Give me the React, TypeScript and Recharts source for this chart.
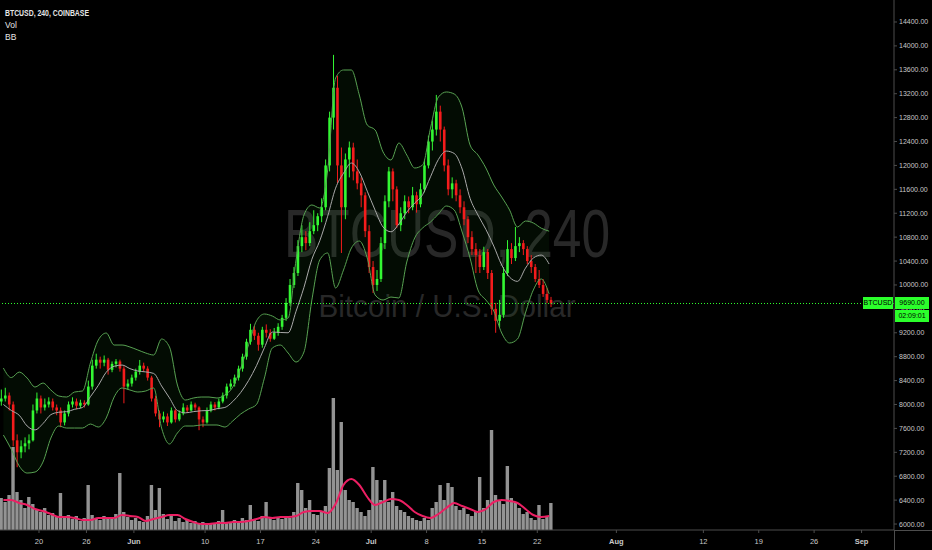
import { ComposedChart, XAxis, YAxis, Bar, Line, Area, ReferenceLine } from 'recharts'

// BTCUSD (Coinbase), 12h candles [open, high, low, close] from 15 May 2019
const mayCandles = [
  [8050, 8250, 7980, 8100], [8100, 8280, 8050, 8150], [8150, 8200, 7900, 8000], [8000, 8050, 7300, 7400],
  [7400, 7500, 6950, 7200], [7200, 7400, 7100, 7300], [7300, 7450, 7200, 7350], [7350, 7500, 7250, 7400],
  [7400, 8000, 7380, 7900], [7900, 8200, 7850, 8100], [8100, 8150, 7850, 7950], [7950, 8100, 7900, 8000],
  [8000, 8120, 7950, 8050], [8050, 8100, 7900, 7950], [7950, 8000, 7820, 7900], [7900, 7950, 7620, 7700],
  [7700, 7900, 7650, 7850], [7850, 8050, 7800, 8000], [8000, 8120, 7950, 8050], [8050, 8100, 7920, 7980],
  [7980, 8080, 7940, 8030], [8030, 8070, 7950, 8000], [8000, 8400, 7980, 8300], [8300, 8750, 8250, 8650],
  [8650, 8850, 8600, 8750], [8750, 8800, 8600, 8700], [8700, 8820, 8640, 8750], [8750, 8780, 8500, 8580],
  [8580, 8720, 8540, 8680], [8680, 8760, 8620, 8720], [8720, 8750, 8550, 8600], [8600, 8640, 8020, 8300],
  [8300, 8420, 8250, 8350], [8350, 8500, 8300, 8450],
]

const juneCandles = [
  [8450, 8600, 8400, 8550], [8550, 8745, 8500, 8650], [8650, 8700, 8550, 8600], [8600, 8640, 8400, 8450],
  [8450, 8480, 8050, 8100], [8100, 8150, 7800, 7850], [7850, 7900, 7620, 7750], [7750, 7880, 7700, 7800],
  [7800, 7850, 7640, 7700], [7700, 7950, 7680, 7900], [7900, 7920, 7700, 7750], [7750, 7900, 7720, 7850],
  [7850, 8020, 7820, 7950], [7950, 7990, 7860, 7900], [7900, 8050, 7880, 8000], [8000, 8030, 7900, 7950],
  [7950, 7970, 7570, 7750], [7750, 7800, 7620, 7700], [7700, 7950, 7680, 7900], [7900, 8050, 7870, 8000],
  [8000, 8040, 7900, 7950], [7950, 8100, 7920, 8050], [8050, 8200, 8020, 8150], [8150, 8350, 8100, 8300],
  [8300, 8420, 8250, 8350], [8350, 8500, 8300, 8450], [8450, 8650, 8400, 8600], [8600, 8850, 8550, 8800],
  [8800, 9100, 8750, 9050], [9050, 9350, 9000, 9250], [9250, 9320, 9080, 9150], [9150, 9200, 8900, 9000],
  [9000, 9300, 8950, 9250], [9250, 9340, 9120, 9200], [9200, 9260, 9050, 9100], [9100, 9280, 9080, 9200],
  [9200, 9360, 9150, 9300], [9300, 9500, 9250, 9450], [9450, 9780, 9400, 9700], [9700, 10100, 9650, 10000],
  [10000, 10300, 9950, 10200], [10200, 10750, 10150, 10650], [10650, 11000, 10550, 10800], [10800, 10900, 10580, 10700],
  [10700, 11050, 10650, 10900], [10900, 11250, 10850, 11000], [11000, 11200, 10900, 11150], [11150, 11450, 11050, 11300],
  [11300, 12100, 11250, 12000], [12000, 12900, 11900, 12800], [12800, 13850, 12600, 13300], [13300, 13500, 11700, 12000],
  [12000, 12300, 10535, 11300], [11300, 12200, 11100, 12100], [12100, 12400, 11800, 12300], [12300, 12380, 11750, 11900],
  [11900, 12100, 11600, 11700], [11700, 11800, 11300, 11500], [11500, 11550, 10800, 10900], [10900, 11000, 10200, 10300],
]

const julyCandles = [
  [10300, 10400, 9865, 10000], [10000, 10250, 9900, 10100], [10100, 10800, 10050, 10700], [10700, 11500, 10600, 11400],
  [11400, 11975, 11300, 11900], [11900, 11950, 11400, 11600], [11600, 11650, 10950, 11000], [11000, 11300, 10900, 11200],
  [11200, 11500, 11100, 11400], [11400, 11480, 11200, 11300], [11300, 11640, 11250, 11500], [11500, 11560, 11210, 11350],
  [11350, 11700, 11300, 11600], [11600, 12100, 11550, 12000], [12000, 12500, 11950, 12400], [12400, 12750, 12250, 12600],
  [12600, 13180, 12500, 12900], [12900, 13000, 12400, 12600], [12600, 12650, 11900, 12000], [12000, 12100, 11500, 11600],
  [11600, 11800, 11450, 11700], [11700, 11760, 11400, 11500], [11500, 11600, 11200, 11300], [11300, 11400, 11000, 11100],
  [11100, 11150, 10700, 10800], [10800, 10900, 10500, 10600], [10600, 10700, 10200, 10500], [10500, 10600, 10200, 10300],
  [10300, 10640, 10250, 10550], [10550, 10600, 10100, 10200], [10200, 10250, 9500, 9600], [9600, 9700, 9200, 9400],
  [9400, 9750, 9290, 9500], [9500, 10300, 9450, 10200], [10200, 10750, 10150, 10600], [10600, 10700, 10350, 10450],
  [10450, 10970, 10400, 10650], [10650, 10800, 10550, 10700], [10700, 10750, 10500, 10600], [10600, 10650, 10350, 10400],
  [10400, 10500, 10200, 10300], [10300, 10350, 10050, 10100], [10100, 10250, 9950, 10000], [10000, 10100, 9800, 9850],
  [9850, 9950, 9700, 9750], [9750, 9800, 9630, 9690],
]

const mayVolume = [
  3200, 2800, 3500, 8300, 3800, 3000, 2200, 3300, 2600, 2000, 1800, 2200, 1500, 1700, 1400, 3700, 1200,
  1500, 1100, 1400, 900, 1200, 4500, 1500, 1200, 1000, 1400, 1100, 1200, 1600, 5700, 1800, 1300, 1000,
]
const juneVolume = [
  1200, 900, 800, 1400, 4500, 2000, 4200, 1600, 1100, 1400, 900, 1200, 800, 1000, 700, 900, 600, 800, 500, 700,
  600, 900, 2000, 800, 700, 1000, 900, 1200, 1000, 2500, 1100, 900, 1400, 2800, 1200, 1000, 1300, 1100, 1400, 1200,
  1800, 4700, 4000, 2200, 3000, 1600, 1500, 1800, 2400, 6200, 13200, 6000, 10800, 4000, 3000, 2800, 2200, 1800, 1400, 2000,
]
const julyVolume = [
  6300, 5000, 3000, 5000, 2800, 3800, 2400, 2000, 1800, 1400, 1200, 1000, 900, 1200, 1000, 2200, 2800, 4500, 3000, 4700,
  4300, 2400, 2000, 2200, 1600, 1400, 1800, 5300, 2200, 3000, 10000, 3500, 3000, 2600, 6400, 3200, 2800, 2200, 1600, 1800,
  1200, 1000, 2500, 1100, 1400, 2700,
]

// Bollinger bands and volume average, one reading per day
const bbUpper = [
  8610, 8450, 8543, 8443, 8292, 8359, 8242, 8142, 8125, 8209, 8226, 8694, 9079, 9196, 8995, 8995, 8962, 8912, 8861, 8828,
  9096, 8962, 8326, 8075, 8108, 8125, 8125, 8108, 8159, 8292, 8610, 9000, 9400, 9514, 9480, 9414, 9447, 10418, 11171, 11338,
  11288, 11924, 13463, 13597, 13597, 13178, 12676, 12593, 12225, 12091, 12375, 12175, 11957, 12007, 12626, 13145, 13229, 13195, 12961, 12342,
  12175, 11957, 11673, 11472, 11254, 10970, 11070, 11037, 10950, 10900,
]
const bbBasis = [
  8000, 7900, 7820, 7640, 7575, 7680, 7830, 7870, 7880, 7920, 7950, 8130, 8320, 8540, 8640, 8660, 8600, 8560, 8545, 8520,
  8310, 8110, 7900, 7860, 7880, 7895, 7900, 7930, 7950, 8050, 8200, 8400, 8650, 8950, 9212, 9205, 9200, 9560, 9960, 10430,
  10740, 11150, 11620, 11870, 12040, 11890, 11570, 11250, 10970, 10890, 11020, 11220, 11371, 11510, 11810, 12100, 12240, 12200, 11940, 11450,
  11170, 10930, 10650, 10334, 10130, 10060, 10280, 10450, 10500, 10350,
]
const bbLower = [
  7489, 7250, 6971, 6853, 6870, 7037, 7439, 7640, 7606, 7606, 7606, 7673, 7623, 7774, 8125, 8276, 8242, 8209, 8226, 8276,
  7606, 7339, 7523, 7640, 7640, 7657, 7657, 7657, 7623, 7724, 7841, 7924, 8000, 8443, 8945, 8995, 8861, 8711, 8878, 9748,
  10418, 10535, 9949, 10250, 10618, 10735, 10451, 9832, 9748, 9798, 9782, 10384, 10786, 10953, 11053, 11187, 11321, 11254, 10886, 10450,
  9916, 9748, 9564, 9196, 9029, 9096, 9531, 9916, 10100, 9850,
]
const volumeMa = [
  3000, 3000, 2700, 2500, 2100, 1900, 1600, 1300, 1300, 1200, 1000, 1000, 1200, 1200, 1200, 1500, 1400, 1300, 900, 1100,
  1300, 1500, 1500, 1100, 800, 600, 600, 700, 700, 800, 800, 900, 1100, 1300, 1200, 1300, 1300, 1400, 1800, 1900,
  1900, 1700, 2600, 4500, 5100, 4500, 3300, 2500, 2800, 3100, 3000, 2500, 1800, 1400, 1200, 1600, 2200, 2700, 2400, 2100,
  1800, 2100, 2800, 3000, 2900, 2700, 2100, 1500, 1300, 1400,
]

// days counted from 20 May
const tickDays = [0, 6, 12, 21, 28, 35, 42, 49, 56, 63, 73, 84, 91, 98, 104]
const tickLabels = ['20', '26', 'Jun', '10', '17', '24', 'Jul', '8', '15', '22', 'Aug', '12', '19', '26', 'Sep']
const monthLabels = ['Jun', 'Jul', 'Aug', 'Sep']
const priceTicks = [6000, 6400, 6800, 7200, 7600, 8000, 8400, 8800, 9200, 9600, 10000, 10400, 10800, 11200, 11600, 12000, 12400, 12800, 13200, 13600, 14000, 14400]
const lastPrice = 9690

const GREEN = '#33f733'
const RED = '#f41c1c'
const FONT = '"Liberation Sans", Arial, sans-serif'

const candles = [...mayCandles, ...juneCandles, ...julyCandles]
const volumes = [...mayVolume, ...juneVolume, ...julyVolume]

const candleTable = candles.map((k, i) => ({
  t: -4.75 + i * 0.5,
  o: k[0], h: k[1], l: k[2], c: k[3],
  v: volumes[i],
}))

const bandTable = bbUpper.map((u, j) => ({
  t: -4.5 + j,
  upper: u,
  basis: bbBasis[j],
  lower: bbLower[j],
  vma: volumeMa[j],
}))

function Candle(props: any) {
  const { x, y, width, height, payload } = props
  if (x == null || y == null || !payload) return null
  const top = Math.min(y, y + height)
  const span = Math.abs(height)
  const { o, h, l, c } = payload
  const k = h === l ? 0 : span / (h - l)
  const bodyTop = top + (h - Math.max(o, c)) * k
  const bodyBot = top + (h - Math.min(o, c)) * k
  const cx = x + width / 2
  const color = c >= o ? GREEN : RED
  return (
    <g>
      <line x1={cx} x2={cx} y1={top} y2={top + span} stroke={color} strokeWidth={1} />
      <rect x={cx - 1.3} y={bodyTop} width={2.6} height={Math.max(1, bodyBot - bodyTop)} fill={color} />
    </g>
  )
}

function DateTick({ x, y, payload }: any) {
  const label = tickLabels[tickDays.indexOf(payload.value)]
  return (
    <text x={x} y={y} dy={9} textAnchor="middle" fill="#c8c8c8" fontSize={7.5} fontFamily={FONT}
      fontWeight={monthLabels.includes(label) ? 700 : 400}>
      {label}
    </text>
  )
}

export default function App() {
  return (
    <div style={{ position: 'relative', width: 932, height: 550, background: '#000', overflow: 'hidden' }}>
      <style>{'body{margin:0;background:#000}'}</style>
      <svg width={932} height={550} style={{ position: 'absolute', left: 0, top: 0 }}>
        <text x={447} y={257} textAnchor="middle" fontSize={69} fontFamily={FONT} fill="#282828"
          textLength={326} lengthAdjust="spacingAndGlyphs">BTCUSD, 240</text>
        <text x={447} y={317} textAnchor="middle" fontSize={32} fontFamily={FONT} fill="#282828"
          textLength={257} lengthAdjust="spacingAndGlyphs">Bitcoin / U.S. Dollar</text>
      </svg>
      <div style={{ position: 'absolute', left: 0, top: 0 }}>
        <ComposedChart width={932} height={550} data={candleTable} margin={{ top: 0, right: 0, bottom: 0, left: 0 }}>
          <XAxis xAxisId="t" dataKey="t" type="number" domain={[-4.93, 108.1]} ticks={tickDays} interval={0}
            height={20} tick={<DateTick />} tickSize={3} tickMargin={2} stroke="#4d4d4d" />
          <XAxis xAxisId="v" dataKey="t" type="number" domain={[-4.93, 108.1]} hide />
          <YAxis yAxisId="p" orientation="right" width={38} domain={[5900, 14768]} ticks={priceTicks} interval={0}
            tickFormatter={(v: number) => v.toFixed(2)} tickSize={3} tickMargin={2} stroke="#4d4d4d"
            tick={{ fill: '#c8c8c8', fontSize: 7, fontFamily: FONT }} allowDataOverflow />
          <YAxis yAxisId="v" domain={[0, 53000]} hide allowDataOverflow />

          <Area data={bandTable} xAxisId="t" yAxisId="p" dataKey={(d: any) => [d.lower, d.upper]} type="monotone"
            stroke="none" fill="#1f6a1f" fillOpacity={0.11} isAnimationActive={false} />
          <Line data={bandTable} xAxisId="t" yAxisId="p" dataKey="upper" type="monotone" stroke="#58a252"
            strokeWidth={1} dot={false} isAnimationActive={false} />
          <Line data={bandTable} xAxisId="t" yAxisId="p" dataKey="lower" type="monotone" stroke="#58a252"
            strokeWidth={1} dot={false} isAnimationActive={false} />
          <Line data={bandTable} xAxisId="t" yAxisId="p" dataKey="basis" type="monotone" stroke="#a9a9a9"
            strokeWidth={1} dot={false} isAnimationActive={false} />

          <Bar xAxisId="v" yAxisId="v" dataKey="v" fill="#939393" barSize={3.4} isAnimationActive={false} />
          <Line data={bandTable} xAxisId="t" yAxisId="v" dataKey="vma" type="monotone" stroke="#ec1f63"
            strokeWidth={2} dot={false} isAnimationActive={false} />

          <ReferenceLine xAxisId="t" yAxisId="p" y={lastPrice} stroke="#2eff2e" strokeDasharray="1 2" />
          <Bar xAxisId="t" yAxisId="p" dataKey={(d: any) => [d.l, d.h]} barSize={3} shape={<Candle />}
            isAnimationActive={false} />
        </ComposedChart>
      </div>

      {/* axis lines running past the plot */}
      <div style={{ position: 'absolute', left: 894, top: 530, width: 1, height: 20, background: '#4d4d4d' }} />
      <div style={{ position: 'absolute', left: 894, top: 530, width: 38, height: 1, background: '#4d4d4d' }} />

      {/* legend */}
      <svg width={200} height={50} style={{ position: 'absolute', left: 0, top: 0 }}>
        <text x={5} y={16} fontSize={8.5} fontWeight={700} fill="#e6e6e6" fontFamily={FONT}
          textLength={84} lengthAdjust="spacingAndGlyphs">BTCUSD, 240, COINBASE</text>
        <text x={5} y={28} fontSize={8.5} fill="#e6e6e6" fontFamily={FONT}>Vol</text>
        <text x={5} y={40} fontSize={8.5} fill="#e6e6e6" fontFamily={FONT}>BB</text>
      </svg>

      {/* last price tags */}
      <div style={{ position: 'absolute', left: 863, top: 297, width: 30, height: 12, background: '#2bff2b',
        color: '#000', fontSize: 7, fontFamily: FONT, lineHeight: '12px', textAlign: 'center' }}>BTCUSD</div>
      <div style={{ position: 'absolute', left: 895, top: 297, width: 34, height: 12, background: '#2bff2b',
        color: '#000', fontSize: 7, fontFamily: FONT, lineHeight: '12px', textAlign: 'center' }}>9690.00</div>
      <div style={{ position: 'absolute', left: 895, top: 310, width: 34, height: 12, background: '#2bff2b',
        color: '#000', fontSize: 7, fontFamily: FONT, lineHeight: '12px', textAlign: 'center' }}>02:09:01</div>
    </div>
  )
}
